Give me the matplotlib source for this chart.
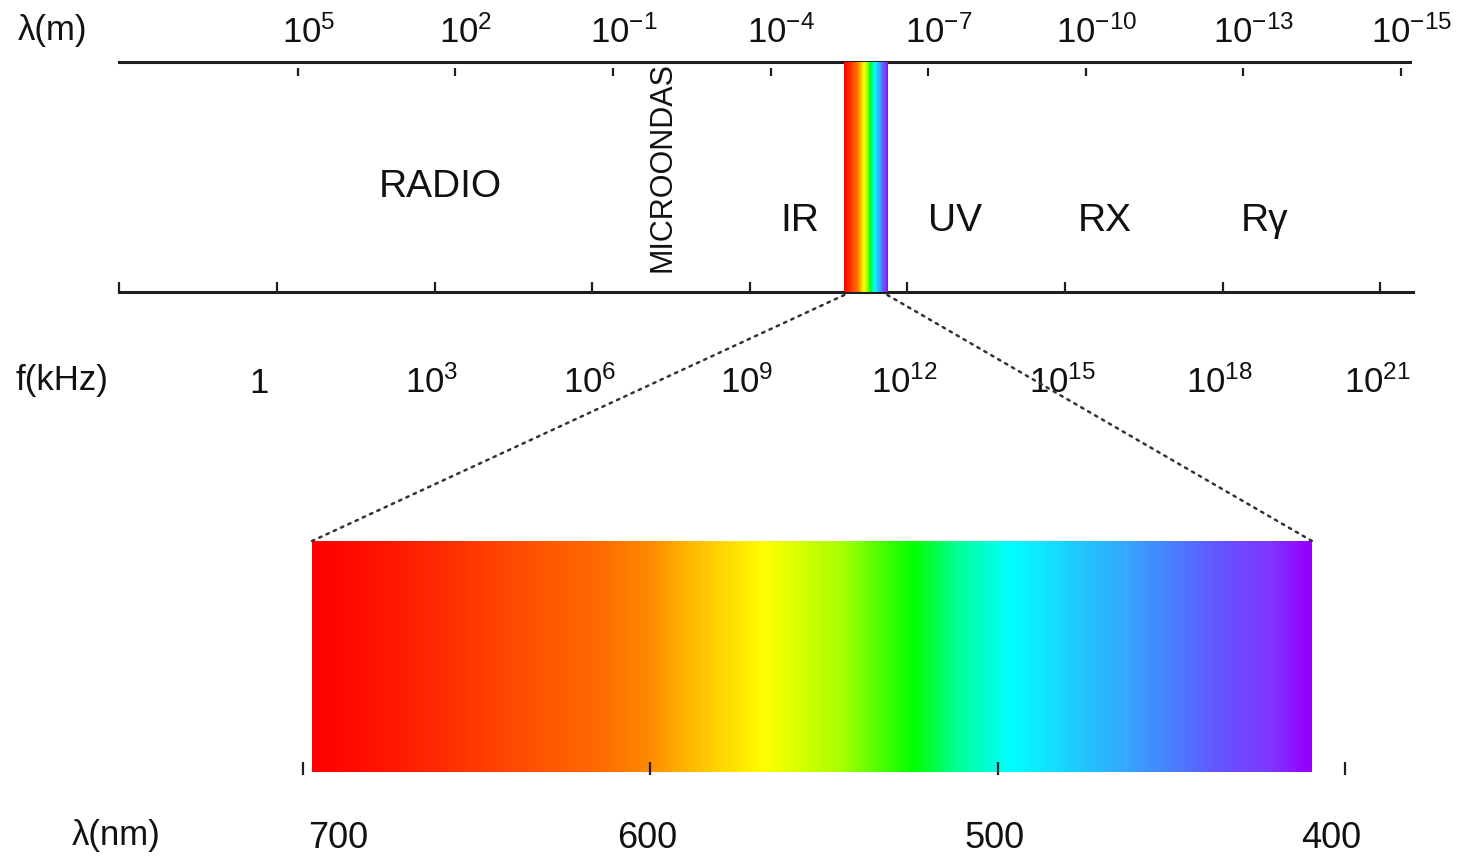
import numpy as np
import matplotlib
matplotlib.use('Agg')
import matplotlib.pyplot as plt
from matplotlib.colors import LinearSegmentedColormap
from matplotlib.patches import ConnectionPatch

plt.rcParams['font.family'] = ['Liberation Sans', 'DejaVu Sans']

# ── data ───────────────────────────────────────────────────────
# frequency axis, exponents of f in kHz
FREQ_EXP = [0, 3, 6, 9, 12, 15, 18, 21]
AXIS_START = -3            # left end of the frequency scale
AXIS_END = 21.62
# wavelength labels (m); the original puts 10^-15 on the next 3-decade slot
LAM_LABELS = ['5', '2', '-1', '-4', '-7', '-10', '-13', '-15']
LAM_POS_EXP = [5, 2, -1, -4, -7, -10, -13, -16]
C_KHZ = np.log10(3e5)      # log10(c / 1 kHz·m)

REGIONS = ['RADIO', 'IR', 'UV', 'RX', 'Rγ']
REGION_POS = [3.1, 9.96, 12.9, 15.76, 18.8]
MICRO_POS = 7.33
VIS_BAND = (10.8, 11.62)   # visible strip on the log-f scale

NM_TICKS = [700, 600, 500, 400]
NM_LABEL_POS = [690, 601, 501, 404]
SPEC_NM = [697.4, 678, 656, 632, 615, 600, 590, 567, 545, 524, 511, 496,
           474, 462, 450, 436, 421, 409.5]
SPEC_COL = ['#ff0000', '#ff1400', '#ff3200', '#ff5500', '#ff6a00', '#ff8c00',
            '#ffb400', '#ffff00', '#a8ff00', '#00ff00', '#00ff96', '#00ffff',
            '#23c3ff', '#37a5ff', '#4682ff', '#6455ff', '#7d37ff', '#9600ff']

# ── figure ─────────────────────────────────────────────────────
W, H = 1463, 861
fig = plt.figure(figsize=(W / 100, H / 100), dpi=100)
fig.patch.set_facecolor('white')

# top panel: x in log10(f / kHz), y in pixel rows
px0, pscale = 277, 52.53
ax = fig.add_axes([0, 0, 1, 1])
ax.set_xlim(-px0 / pscale, (W - px0) / pscale)
ax.set_ylim(H, 0)
ax.axis('off')

# bottom panel: x in nm, same rows
nm0_px, nm_scale = 303, 3.473
ax2 = fig.add_axes([0, 0, 1, 1])
ax2.set_xlim(700 + nm0_px / nm_scale, 700 - (W - nm0_px) / nm_scale)
ax2.set_ylim(H, 0)
ax2.axis('off')
ax2.patch.set_alpha(0)

line_c = '#1e1e1e'
fs_tick = 25
fs_reg = 28

stops = [(SPEC_NM[0] - v) / (SPEC_NM[0] - SPEC_NM[-1]) for v in SPEC_NM]
cmap = LinearSegmentedColormap.from_list('spec', list(zip(stops, SPEC_COL)))
grad = np.linspace(0, 1, 800)[None, :]

y_top, y_bot = 62, 292

# wavelength line + ticks
ax.plot([AXIS_START, AXIS_END - 0.06], [y_top, y_top], color=line_c, lw=2.2, zorder=3)
lam_pos = C_KHZ - np.array(LAM_POS_EXP)
ax.vlines(lam_pos - 0.08, y_top + 6, y_top + 14, color=line_c, lw=1.6)
for x, e in zip(lam_pos, LAM_LABELS):
    ax.text(x + 0.12, 43, r'$\mathregular{10^{%s}}$' % e, ha='center', va='baseline',
            fontsize=fs_tick, color='#111')
ax.text(18 / pscale - px0 / pscale, 40, 'λ(m)', ha='left', va='baseline',
        fontsize=fs_tick, color='#111')

# frequency line + ticks
ax.plot([AXIS_START, AXIS_END], [y_bot, y_bot], color=line_c, lw=2.2, zorder=3)
ax.vlines([AXIS_START] + FREQ_EXP, y_bot - 10, y_bot, color=line_c, lw=1.6)
for e in FREQ_EXP:
    lab = '1' if e == 0 else r'$\mathregular{10^{%d}}$' % e
    x = e - 0.35 if e == 0 else e - 0.05
    ax.text(x, 393, lab, ha='center', va='baseline', fontsize=fs_tick, color='#111')
ax.text(15 / pscale - px0 / pscale, 390, 'f(kHz)', ha='left', va='baseline',
        fontsize=fs_tick, color='#111')

# visible strip between the lines
ax.imshow(grad, cmap=cmap, aspect='auto', extent=(VIS_BAND[0], VIS_BAND[1], y_bot, y_top),
          zorder=4, interpolation='bilinear')

# region names
for name, x in zip(REGIONS, REGION_POS):
    y = 197 if name == 'RADIO' else 231
    ax.text(x, y, name, ha='center', va='baseline', fontsize=fs_reg, color='#111')
ax.text(MICRO_POS, 167, 'MICROONDAS', rotation=90, ha='center', va='center',
        fontsize=22, color='#111')

# expanded spectrum
r_top, r_bot = 541, 772
ax2.imshow(grad, cmap=cmap, aspect='auto', extent=(SPEC_NM[0], SPEC_NM[-1], r_bot, r_top),
           zorder=2, interpolation='bilinear')
ax2.vlines(NM_TICKS, r_bot - 10, r_bot + 3, color=line_c, lw=1.6, zorder=5)
for v, x in zip(NM_TICKS, NM_LABEL_POS):
    ax2.text(x, 838, str(v), ha='center', va='center', fontsize=26, color='#111')
ax2.text(700 + (303 - 72) / nm_scale, 836, 'λ(nm)', ha='left', va='center',
         fontsize=fs_tick, color='#111')

# dotted zoom lines
for xa, xb in [(VIS_BAND[0], SPEC_NM[0]), (VIS_BAND[1], SPEC_NM[-1])]:
    con = ConnectionPatch(xyA=(xa, y_bot + 3), coordsA=ax.transData,
                          xyB=(xb, r_top), coordsB=ax2.transData,
                          linestyle=(0, (1, 2.2)), lw=1.8, color='#333333')
    fig.add_artist(con)

plt.savefig('out.png', dpi=100)
plt.close()
